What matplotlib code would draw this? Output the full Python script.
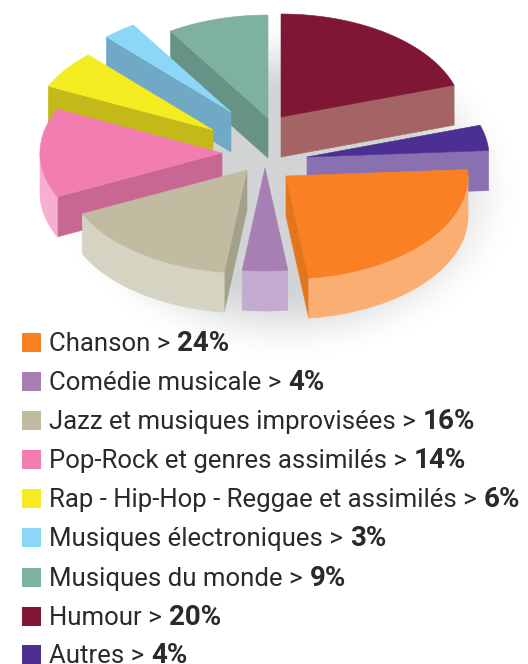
import numpy as np
import matplotlib
matplotlib.use('Agg')
import matplotlib.pyplot as plt

# slices, clockwise from 12 o'clock
categories = ['Humour', 'Autres', 'Chanson', 'Comédie musicale', 'Jazz et musiques improvisées',
              'Pop-Rock et genres assimilés', 'Rap - Hip-Hop - Reggae et assimilés',
              'Musiques électroniques', 'Musiques du monde']
shares = [20, 4, 24, 4, 16, 14, 6, 3, 9]

top_colors = ['#7F1734', '#4B2F92', '#F98023', '#A77FB2', '#C0BBA1', '#F27DB0', '#F4EB21', '#8CD7F7', '#7FB1A3']
outer_colors = ['#A56464', '#8970B1', '#FBAE72', '#C3ABD0', '#D5D3C2', '#F6AFD0', '#C3BA1A', '#6FA9C5', '#669386']
side_colors = ['#A56464', '#8970B1', '#E2761D', '#C3ABD0', '#A2A18A', '#C76792', '#C3BA1A', '#6FA9C5', '#669386']

# how far each slice is pulled out of the middle, in pixels
explode_x = [21, 47, 26, 5, -13, -38, -47, -29, 8]
explode_y = [-33, 7, 26, 18, 20, 3, -20, -38, -32]

legend_order = ['Chanson', 'Comédie musicale', 'Jazz et musiques improvisées', 'Pop-Rock et genres assimilés',
                'Rap - Hip-Hop - Reggae et assimilés', 'Musiques électroniques', 'Musiques du monde',
                'Humour', 'Autres']
draw_order = ['Humour', 'Musiques du monde', 'Musiques électroniques',
              'Rap - Hip-Hop - Reggae et assimilés', 'Pop-Rock et genres assimilés',
              'Autres', 'Jazz et musiques improvisées', 'Comédie musicale', 'Chanson']

cx, cy = 260, 150
rx, ry = 182, 103
depth = 40

fig = plt.figure(figsize=(5.28, 6.64), dpi=100)
ax = fig.add_axes([0, 0, 1, 1])
ax.set_xlim(0, 528)
ax.set_ylim(664, 0)
ax.axis('off')

# soft shadow under the pie
xx, yy = np.meshgrid(np.arange(528) + 0.5, np.arange(664) + 0.5)
t = np.sqrt(((xx - 287) / 235)**2 + ((yy - 190) / 170)**2)
fade = np.clip((1 - t) / 0.45, 0, 1)
fade = fade * fade * (3 - 2 * fade)
shadow = np.zeros((664, 528, 4))
shadow[..., 0] = 0xD1 / 255
shadow[..., 1] = 0xD3 / 255
shadow[..., 2] = 0xD4 / 255
shadow[..., 3] = fade
ax.imshow(shadow, extent=(0, 528, 664, 0), aspect='auto', zorder=0)

starts = np.cumsum([0] + shares[:-1]) * 3.6
ends = np.cumsum(shares) * 3.6


def rim(ox, oy, a, b):
    th = np.radians(np.linspace(a, b, 80))
    return ox + rx * np.sin(th), oy - ry * np.cos(th)


def wall(xa, ya, color, z):
    xa = np.asarray(xa)
    ya = np.asarray(ya)
    ax.fill(np.r_[xa, xa[::-1]], np.r_[ya, ya[::-1] + depth], color=color, lw=0.4, zorder=z)


z = 1
for name in draw_order:
    i = categories.index(name)
    a, b = starts[i], ends[i]
    ox, oy = cx + explode_x[i], cy + explode_y[i]
    # cut faces, only the ones turned to the viewer
    if a > 180:
        ex, ey = rim(ox, oy, a, a)
        wall([ox, ex[0]], [oy, ey[0]], side_colors[i], z)
    if b < 180:
        ex, ey = rim(ox, oy, b, b)
        wall([ox, ex[0]], [oy, ey[0]], side_colors[i], z)
    # round outer face
    lo, hi = max(a, 90), min(b, 270)
    if lo < hi:
        ex, ey = rim(ox, oy, lo, hi)
        wall(ex, ey, outer_colors[i], z)
    ex, ey = rim(ox, oy, a, b)
    ax.fill(np.r_[ox, ex], np.r_[oy, ey], color=top_colors[i], lw=0.4, zorder=z + 0.5)
    z += 1

# legend
row_y = [342, 381, 420, 459, 498, 537, 577, 616, 654]
font = 'Roboto'
size = 18.5
bold_size = 20
text_col = '#2B2A29'
fig.canvas.draw()
rend = fig.canvas.get_renderer()
for name, y in zip(legend_order, row_y):
    i = categories.index(name)
    ax.fill([22, 41, 41, 22], [y - 9.5, y - 9.5, y + 9.5, y + 9.5], color=top_colors[i], lw=0, zorder=20)
    t1 = ax.text(49, y + 8.8, name + ' >', family=font, fontsize=size, color=text_col,
                 va='baseline', ha='left', zorder=21)
    # the bold part starts where the plain part stops
    w = t1.get_window_extent(rend).x1
    ax.text(w + 7, y + 8.8, str(shares[i]) + '%', family=font, fontsize=bold_size, fontweight='bold',
            color=text_col, va='baseline', ha='left', zorder=21)

fig.savefig('out.png', dpi=100)
